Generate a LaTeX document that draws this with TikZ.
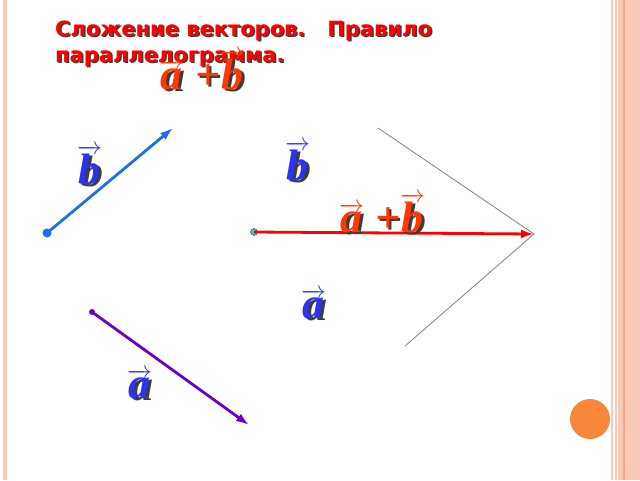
\documentclass[tikz,border=0pt]{standalone}
\usepackage{fontspec}
\setmainfont{Liberation Serif}
\newfontfamily\titlefont{DejaVu Sans}
\usetikzlibrary{positioning,arrows.meta}

\definecolor{framepink}{RGB}{251,202,182}
\definecolor{framedark}{RGB}{249,170,130}
\definecolor{ballorange}{RGB}{247,136,58}
\definecolor{bvec}{RGB}{30,110,235}
\definecolor{avec}{RGB}{102,0,204}
\definecolor{labblue}{RGB}{45,50,240}
\definecolor{labred}{RGB}{255,55,0}
\definecolor{shadowgray}{RGB}{60,60,60}
\definecolor{startcyan}{RGB}{60,200,210}

% text with a drop shadow
\newcommand{\shad}[3][1.5pt]{\makebox[0pt][l]{\kern#1\raisebox{-#1}{\color{shadowgray}#3}}{\color{#2}#3}}
% vector letter with arrow
\newcommand{\vlab}[2]{$\color{#1}\overrightarrow{\hbox{\shad[2.5pt]{#1}{#2}}}$}

\tikzset{
	every node/.style = {inner sep = 0},
	>={Latex[length=13pt,width=9pt]},
	vecline/.style = {->, line width=2.8pt},
	startdot/.style = {circle, fill, inner sep=0, minimum size=#1},
	sideline/.style = {gray, line width=0.8pt},
	titletext/.style = {anchor=base west, font=\titlefont\bfseries\fontsize{21}{26}\selectfont},
	veclab/.style = {anchor=base west, font=\fontsize{44}{48}\selectfont\bfseries\itshape}
}

\begin{document}
\begin{tikzpicture}[x=1pt,y=-1pt]
	\useasboundingbox (0,0) rectangle (640,480);
	% frame of the slide
	\fill[framepink] (3,0) rectangle (7,480);
	\fill[framepink] (611,0) rectangle (613,480);
	\fill[framepink] (615,0) rectangle (617,480);
	\fill[framepink] (618,0) rectangle (640,480);
	\fill[framedark] (623,0) rectangle (625,480);
	\fill[ballorange] (590,419) circle (20);

	\node[titletext] (title1) at (55,36) {\shad{red}{Сложение векторов.\ \ \ Правило}};
	\node[titletext] (title2) at (55,62) {\shad{red}{параллелограмма.}};

	% vector b
	\node[startdot=9pt, bvec] (bstart) at (47,233) {};
	\coordinate (bend) at (173,128);
	\draw[vecline, bvec] (bstart.center) -- (bend);
	\node[veclab] (blab) at (77,184) {\vlab{labblue}{b}};

	% vector a
	\node[startdot=6pt, avec] (astart) at (92,312) {};
	\coordinate (aend) at (249,425);
	\draw[vecline, avec] (astart.center) -- (aend);
	\node[veclab] (alab) at (127,398) {\vlab{labblue}{a}};

	% parallelogram sides
	\coordinate (gtop) at (378,128);
	\coordinate (gtip) at (534,234);
	\coordinate (gbot) at (405,346);
	\draw[sideline] (gtop) -- (gtip) -- (gbot);

	% sum a+b
	\node[startdot=7pt, startcyan, draw=shadowgray, line width=0.4pt] (sstart) at (254,232) {};
	\draw[vecline, red] (sstart.center) -- (gtip);
	\node[veclab] (blab2) at (285,180) {\vlab{labblue}{b}};
	\node[veclab] (alab2) at (301,318) {\vlab{labblue}{a}};
	\node[veclab] (slab) at (339,232) {\vlab{labred}{a} \shad[2.5pt]{labred}{+}\vlab{labred}{b}};

	\node[veclab] (toplab) at (159,89) {\vlab{labred}{a} \shad[2.5pt]{labred}{+}\vlab{labred}{b}};
\end{tikzpicture}
\end{document}
